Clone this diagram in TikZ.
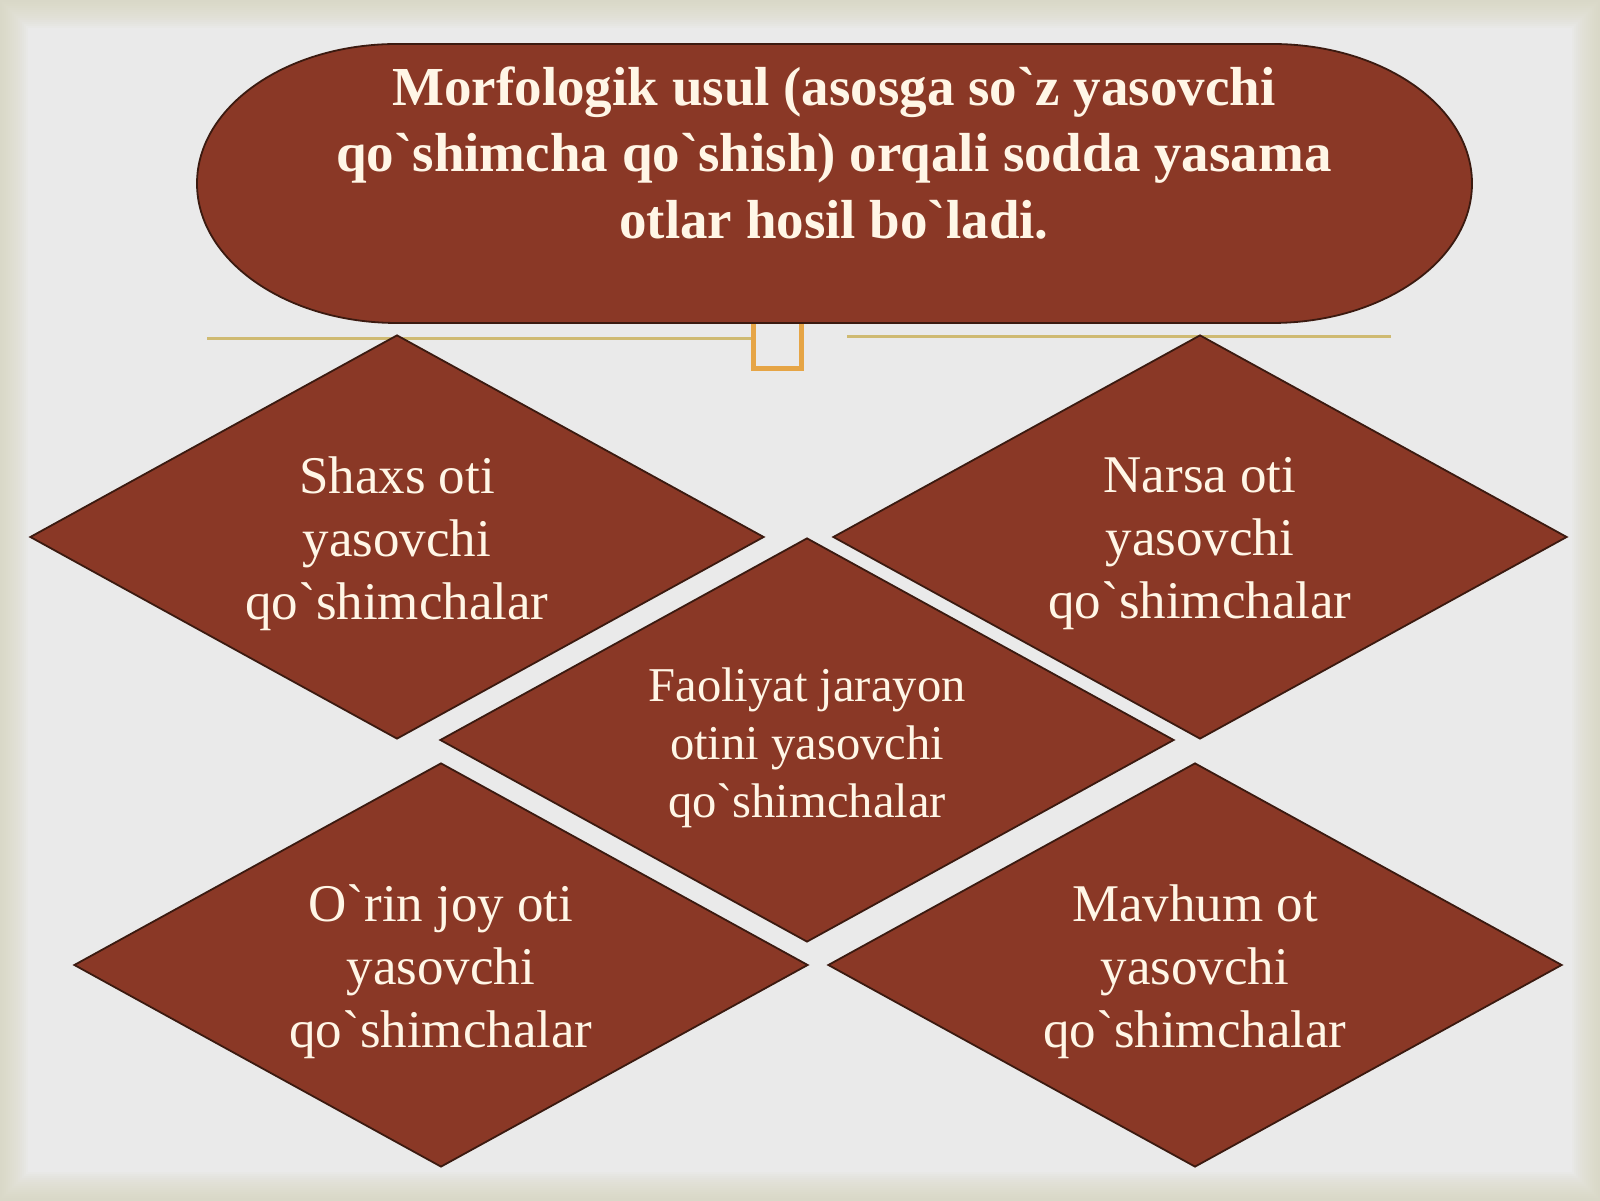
\documentclass[tikz,border=0pt]{standalone}
\usepackage{fontspec}
\newfontfamily\lserif{Liberation Serif}
\usetikzlibrary{shapes.geometric,calc}
\definecolor{bgin}{HTML}{EAEAEA}
\definecolor{bgmid}{HTML}{E6E6DF}
\definecolor{bgedge}{HTML}{D8D7BF}
\definecolor{boxfill}{HTML}{8A3826}
\definecolor{boxline}{HTML}{3B1A10}
\definecolor{cream}{HTML}{FFF6E6}
\definecolor{goldline}{HTML}{CFBA72}
\definecolor{orangeline}{HTML}{E6A546}
\pgfdeclareradialshading{bgshade}{\pgfpoint{0bp}{0bp}}{color(0bp)=(bgin); color(36bp)=(bgin); color(55bp)=(bgmid); color(75bp)=(bgmid)}
\tikzset{
  dia/.style={diamond, draw=boxline, fill=boxfill, line width=0.9pt,
    minimum width=367pt, minimum height=202pt, inner sep=0pt},
  dtext/.style={text=cream, align=center, inner sep=0pt,
    font=\lserif\fontsize{26.5}{31.5}\selectfont},
  mtext/.style={text=cream, align=center, inner sep=0pt,
    font=\lserif\fontsize{24.3}{29}\selectfont},
  ttext/.style={text=cream, align=center, inner sep=0pt,
    font=\lserif\bfseries\fontsize{27.5}{33.25}\selectfont},
  stadium/.style={fill=boxfill, draw=boxline, line width=0.9pt},
  rule/.style={draw=goldline, line width=1.5pt},
  bracket/.style={draw=orangeline, line width=2.5pt}
}
\begin{document}
\begin{tikzpicture}[x=0.5pt,y=0.5pt]
\useasboundingbox (0,0) rectangle (1600,1200);
\shade[shading=bgshade] (0,0) rectangle (1600,1200);
\foreach \i in {1,...,14}{
  \pgfmathsetmacro\lw{30-2*\i}
  \draw[draw=bgedge, draw opacity=0.08, line width=\lw pt] (0,0) rectangle (1600,1200);
}
% decorative rules
\coordinate (la) at (207,861);
\coordinate (lb) at (753,861);
\coordinate (ra) at (847,863);
\coordinate (rb) at (1391,863);
\draw[rule] (la) -- (lb);
\draw[rule] (ra) -- (rb);
\coordinate (s1) at (753,880);
\coordinate (s2) at (801,880);
\draw[bracket] (s1) -- (753,831) -- (801,831) -- (s2);
% title shape
\path[stadium] (397,1156) -- (1272,1156)
  arc[start angle=90, end angle=-90, x radius=100pt, y radius=69.75pt]
  -- (397,877)
  arc[start angle=270, end angle=90, x radius=100pt, y radius=69.75pt]
  -- cycle;
\node[ttext] (title) at (834,1047) {Morfologik usul (asosga so`z yasovchi\\qo`shimcha qo`shish) orqali sodda yasama\\otlar hosil bo`ladi.};
% diamonds
\node[dia] (d1) at (397,663) {};
\node[dia] (d2) at (1200,663) {};
\node[dia] (d3) at (807,460) {};
\node[dia] (d4) at (441,235) {};
\node[dia] (d5) at (1195,235) {};
\node[dtext] (t1) at (397,656) {Shaxs oti\\yasovchi\\qo`shimchalar};
\node[dtext] (t2) at (1200,656) {Narsa oti\\yasovchi\\qo`shimchalar};
\node[mtext] (t3) at (807,452) {Faoliyat jarayon\\otini yasovchi\\qo`shimchalar};
\node[dtext] (t4) at (441,228) {O`rin joy oti\\yasovchi\\qo`shimchalar};
\node[dtext] (t5) at (1195,228) {Mavhum ot\\yasovchi\\qo`shimchalar};
\end{tikzpicture}
\end{document}
